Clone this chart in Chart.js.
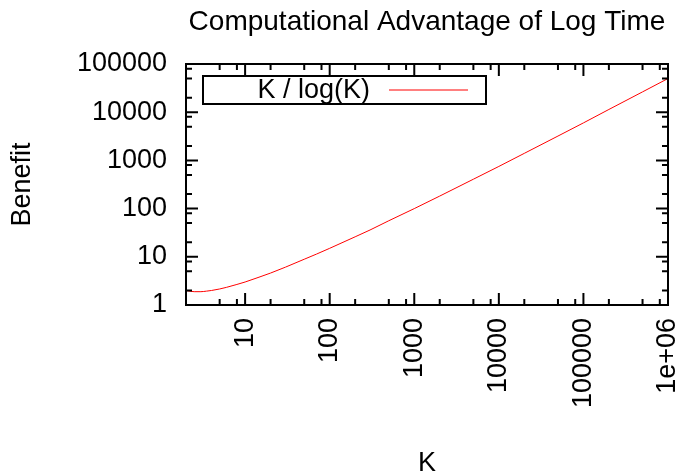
<!DOCTYPE html>
<html lang="en">
<head>
    <meta charset="UTF-8">
    <title>Computational Advantage of Log Time</title>
    <script src="https://cdn.jsdelivr.net/npm/chart.js"></script>
    <style>
        body {
            margin: 0;
            background-color: #fff;
        }
        #wrap {
            width: 682px;
            height: 475px;
        }
    </style>
</head>
<body>
    <div id="wrap">
        <canvas id="benefitChart" width="682" height="475"></canvas>
    </div>

    <script>
        // values
        const kValues = [2, 2.5, 3, 3.5, 4, 5, 6, 8, 10, 15, 20, 30, 50, 70, 100, 200, 300, 500,
                         1000, 2000, 5000, 10000, 20000, 50000, 100000, 200000, 500000, 1000000];
        const benefit = [2, 1.89, 1.89, 1.94, 2, 2.15, 2.32, 2.67, 3.0, 3.84, 4.6, 6.1, 8.9, 11.4, 15,
                         26, 36, 56, 100, 182, 407, 750, 1400, 3200, 6000, 11400, 26400, 50000];
        const xTicks = [10, 100, 1000, 10000, 100000, 1000000];
        const xTickLabels = ['10', '100', '1000', '10000', '100000', '1e+06'];
        const yTicks = [1, 10, 100, 1000, 10000, 100000];
        const yTickLabels = ['1', '10', '100', '1000', '10000', '100000'];
        const minorSteps = [2, 5, 8];

        const FONT = '"Liberation Sans", Arial, Helvetica, sans-serif';

        // gnuplot style frame with inward ticks on all four sides, title and key
        const framePlugin = {
            id: 'frame',
            afterDraw(chart) {
                const ctx = chart.ctx;
                const area = chart.chartArea;
                const xs = chart.scales.x;
                const ys = chart.scales.y;
                ctx.save();
                ctx.strokeStyle = '#000';
                ctx.lineWidth = 2;

                function tickMarks(scale, vals, len) {
                    vals.forEach(v => {
                        if (v < scale.min || v > scale.max) return;
                        const p = scale.getPixelForValue(v);
                        ctx.beginPath();
                        if (scale.axis === 'x') {
                            ctx.moveTo(p, area.bottom); ctx.lineTo(p, area.bottom - len);
                            ctx.moveTo(p, area.top); ctx.lineTo(p, area.top + len);
                        } else {
                            ctx.moveTo(area.left, p); ctx.lineTo(area.left + len, p);
                            ctx.moveTo(area.right, p); ctx.lineTo(area.right - len, p);
                        }
                        ctx.stroke();
                    });
                }
                function minors(majors) {
                    const out = [];
                    [majors[0] / 10].concat(majors).forEach(m => minorSteps.forEach(s => out.push(m * s)));
                    return out;
                }
                tickMarks(xs, xTicks, 12);
                tickMarks(ys, yTicks, 12);
                tickMarks(xs, minors(xTicks), 6);
                tickMarks(ys, minors(yTicks), 6);

                ctx.strokeRect(area.left, area.top, area.right - area.left, area.bottom - area.top);

                // title centred over the plot
                ctx.fillStyle = '#000';
                ctx.font = '28px ' + FONT;
                ctx.textAlign = 'center';
                ctx.textBaseline = 'middle';
                ctx.fillText('Computational Advantage of Log Time', (area.left + area.right) / 2, 22);

                // key
                const ds = chart.data.datasets[0];
                const bx = area.left + 17, by = area.top + 12, bw = 283, bh = 28;
                ctx.strokeRect(bx, by, bw, bh);
                ctx.font = '27px ' + FONT;
                ctx.textAlign = 'right';
                ctx.fillText(ds.label, bx + 167, by + bh / 2 + 1);
                ctx.strokeStyle = ds.borderColor;
                ctx.lineWidth = 1;
                ctx.beginPath();
                ctx.moveTo(bx + 186, by + bh / 2);
                ctx.lineTo(bx + 265, by + bh / 2);
                ctx.stroke();
                ctx.restore();
            }
        };

        const ctx = document.getElementById('benefitChart').getContext('2d');
        new Chart(ctx, {
            type: 'scatter',
            data: {
                datasets: [{
                    label: 'K / log(K)',
                    data: kValues.map((k, i) => ({ x: k, y: benefit[i] })),
                    showLine: true,
                    borderColor: '#ff0000',
                    borderWidth: 1,
                    pointRadius: 0,
                    cubicInterpolationMode: 'monotone'
                }]
            },
            options: {
                responsive: false,
                animation: false,
                layout: {
                    padding: { top: 64, right: 14, left: 0, bottom: 0 }
                },
                plugins: {
                    legend: { display: false },
                    tooltip: { enabled: false }
                },
                scales: {
                    x: {
                        type: 'logarithmic',
                        min: 2,
                        max: 1000000,
                        grid: { display: false, drawTicks: false },
                        border: { display: false },
                        afterBuildTicks: s => { s.ticks = xTicks.map(v => ({ value: v })); },
                        afterFit: s => { s.height = 170; s.paddingLeft = 0; s.paddingRight = 0; },
                        ticks: {
                            autoSkip: false,
                            minRotation: 90,
                            maxRotation: 90,
                            padding: 13,
                            color: '#000',
                            font: { family: FONT, size: 27 },
                            callback: (v, i) => xTickLabels[i]
                        },
                        title: {
                            display: true,
                            text: 'K',
                            color: '#000',
                            font: { family: FONT, size: 27, lineHeight: 0.85 },
                            padding: { top: 0, bottom: 0 }
                        }
                    },
                    y: {
                        type: 'logarithmic',
                        min: 1,
                        max: 100000,
                        grid: { display: false, drawTicks: false },
                        border: { display: false },
                        afterBuildTicks: s => { s.ticks = yTicks.map(v => ({ value: v })); },
                        afterFit: s => { s.width = 186; s.paddingTop = 0; s.paddingBottom = 0; },
                        ticks: {
                            autoSkip: false,
                            padding: 19,
                            color: '#000',
                            font: { family: FONT, size: 27 },
                            callback: (v, i) => yTickLabels[i]
                        },
                        title: {
                            display: true,
                            text: 'Benefit',
                            color: '#000',
                            font: { family: FONT, size: 27, lineHeight: 1.2 },
                            padding: { top: 6, bottom: 0 }
                        }
                    }
                }
            },
            plugins: [framePlugin]
        });
    </script>
</body>
</html>
